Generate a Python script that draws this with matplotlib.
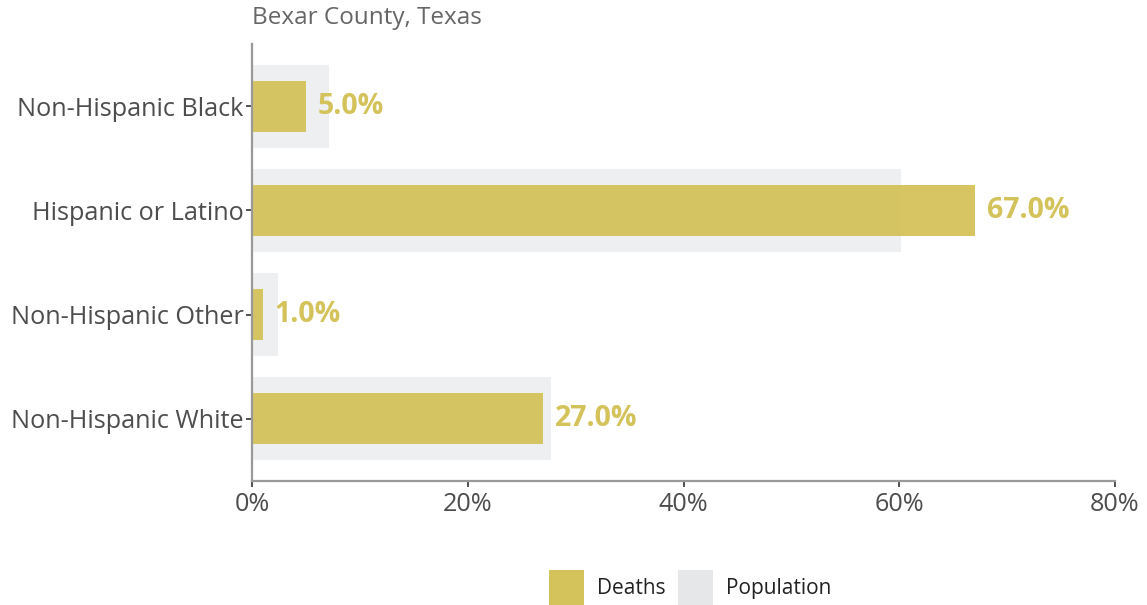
import matplotlib.pyplot as plt
from matplotlib.patches import Patch

plt.rcParams['font.family'] = ['Open Sans', 'DejaVu Sans']

groups = ["Non-Hispanic Black", "Hispanic or Latino", "Non-Hispanic Other", "Non-Hispanic White"]
deaths = [5.0, 67.0, 1.0, 27.0]
population = [7.1, 60.2, 2.4, 27.7]
xticks = [0, 20, 40, 60, 80]

gold = "#d4c25a"
grey = "#eeeff0"
text_col = "#4d4d4d"
axis_col = "#999999"

fig = plt.figure(figsize=(11.47, 6.05), dpi=100)
ax = fig.add_axes([252 / 1147, 1 - 481 / 605, (1115 - 252) / 1147, (481 - 44) / 605])

ypos = list(range(len(groups)))
ax.barh(ypos, population, height=0.79, color=grey, zorder=1)
ax.barh(ypos, deaths, height=0.49, color=gold, alpha=0.95, zorder=2)

for y, d in zip(ypos, deaths):
    ax.text(d + 1.1, y, f"{d:.1f}%", va="center", ha="left", color=gold,
            fontsize=20.5, fontweight="bold")

ax.set_xlim(0, 80)
ax.set_ylim(3.6, -0.6)
ax.set_yticks(ypos)
ax.set_yticklabels(groups, fontsize=18.2, color=text_col)
ax.set_xticks(xticks)
ax.set_xticklabels([f"{t}%" for t in xticks], fontsize=18.2, color=text_col)

for s in ["top", "right"]:
    ax.spines[s].set_visible(False)
for s in ["left", "bottom"]:
    ax.spines[s].set_color(axis_col)
    ax.spines[s].set_linewidth(1.6)
ax.tick_params(axis="both", color="#333333", length=4, width=1.2)
ax.tick_params(axis="x", pad=4)
ax.tick_params(axis="y", pad=2)

fig.text(252 / 1147, 1 - 18 / 605, "Bexar County, Texas", fontsize=17.5, color="#666666",
         ha="left", va="center")

handles = [Patch(facecolor=gold, edgecolor="none", label="Deaths"),
           Patch(facecolor="#e6e7e8", edgecolor="none", label="Population")]
fig.legend(handles=handles, loc="center", bbox_to_anchor=(690 / 1147, 1 - 588 / 605),
           ncol=2, frameon=False, fontsize=15, handlelength=1.7, handleheight=2.3,
           handletextpad=0.6, columnspacing=0.6, labelcolor="#222222")

fig.savefig("out.png", dpi=100)
